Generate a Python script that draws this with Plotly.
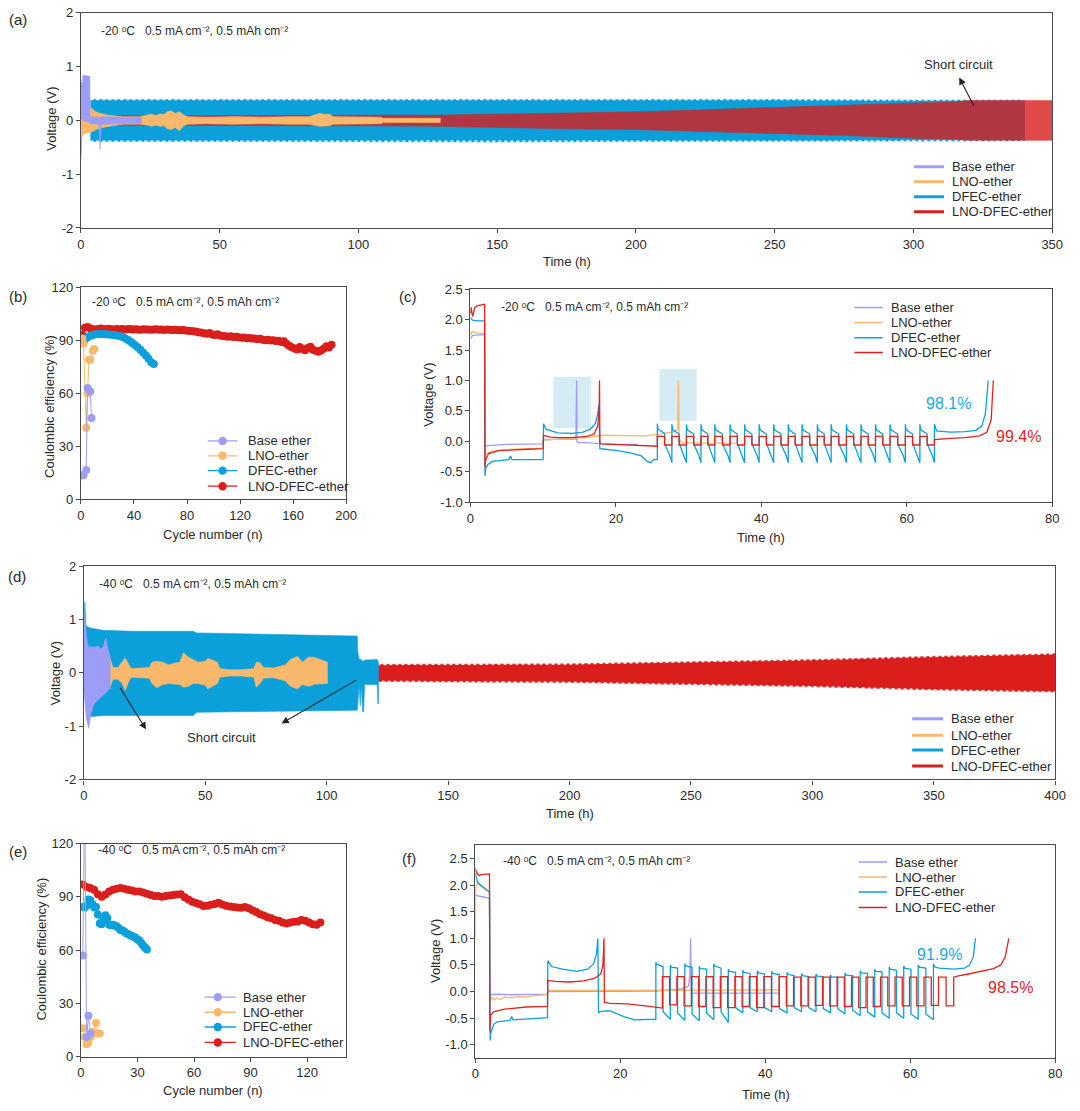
import plotly.graph_objects as go

W, H = 1080, 1111
FONT = "Liberation Sans, Arial, Helvetica, sans-serif"
TXT = "#2a2a2a"
AX = "#4a4a4a"

SERIES = ["Base ether", "LNO-ether", "DFEC-ether", "LNO-DFEC-ether"]
C_BASE, C_LNO, C_DFEC, C_BOTH = "#9D9DF7", "#F9B86C", "#0CA0DA", "#D91E1C"
COLORS = [C_BASE, C_LNO, C_DFEC, C_BOTH]

# ---------------- (a) -20 C symmetric cycling: envelopes of the voltage band ----------------
a_base_t = [0, 0.6, 0.7, 3.2, 3.3, 6.5, 6.8, 6.9, 7.0, 7.3, 15, 21.8]
a_base_up = [0.7, 0.72, 0.84, 0.82, 0.07, 0.07, 0.06, 0.05, 0.06, 0.07, 0.06, 0.06]
a_base_lo = [0.05, 0.02, 0.0, -0.04, -0.06, -0.07, -0.4, -0.54, -0.4, -0.07, -0.06, -0.06]

a_lno_t = [0, 0.3, 1, 2, 3.4, 4.5, 5.3, 6.5, 7.7, 9.5, 11.4, 15, 21, 24, 25.5, 27, 28.5, 30, 31, 32.5,
           34, 35.5, 37, 38.5, 45, 55, 65, 75, 82, 84, 86, 88, 89.5, 91, 100, 108, 109, 120, 129.5]
a_lno_up = [0.24, 0.15, 0.18, 0.2, 0.24, 0.2, 0.16, 0.14, 0.12, 0.1, 0.09, 0.07, 0.07, 0.1, 0.12, 0.09, 0.12, 0.11, 0.16, 0.18,
            0.13, 0.16, 0.1, 0.07, 0.06, 0.07, 0.06, 0.07, 0.07, 0.1, 0.13, 0.11, 0.12, 0.07, 0.06, 0.06, 0.04, 0.04, 0.04]
a_lno_lo = [-0.59, -0.3, -0.25, -0.24, -0.22, -0.2, -0.17, -0.15, -0.13, -0.11, -0.1, -0.07, -0.07, -0.09, -0.11, -0.09, -0.11, -0.1, -0.15, -0.17,
            -0.13, -0.19, -0.1, -0.07, -0.06, -0.07, -0.06, -0.07, -0.07, -0.09, -0.11, -0.1, -0.1, -0.07, -0.06, -0.06, -0.04, -0.04, -0.04]

a_dfec_t = [3.4, 50, 100, 150, 200, 250, 300, 340]
a_dfec_up = [0.39, 0.39, 0.39, 0.40, 0.39, 0.39, 0.38, 0.38]
a_dfec_lo = [-0.39, -0.39, -0.39, -0.40, -0.39, -0.39, -0.38, -0.38]

a_both_t = [0, 0.3, 0.6, 2, 5, 10, 50, 100, 130, 140, 150, 165, 175, 200, 225, 250, 275, 300, 315, 320, 350]
a_both_up = [0.1, 0.15, 0.1, 0.08, 0.08, 0.09, 0.09, 0.09, 0.1, 0.11, 0.12, 0.135, 0.14, 0.16, 0.2, 0.24, 0.28, 0.33, 0.35, 0.37, 0.37]
a_both_lo = [-0.7, -0.3, -0.15, -0.1, -0.09, -0.09, -0.09, -0.1, -0.11, -0.12, -0.13, -0.15, -0.155, -0.17, -0.2, -0.24, -0.28, -0.33, -0.35, -0.37, -0.37]

# ---------------- (b) -20 C Coulombic efficiency ----------------
b_base_n = [1, 2, 4, 5, 7, 8]
b_base_ce = [13.5, 13.8, 16.6, 63, 61, 46]
b_lno_n = [1, 2, 4, 5, 6, 7, 9, 10]
b_lno_ce = [91, 88, 40.5, 60, 79, 79, 84, 85]
b_dfec_n = list(range(1, 57, 2))
b_dfec_ce = [89.0, 90.3, 91.6, 92.5, 93.0, 93.3, 93.5, 93.5, 93.4, 93.3, 93.2, 93.1, 92.9, 92.7,
             92.4, 91.9, 91.2, 90.4, 89.4, 88.3, 87.1, 85.8, 84.4, 82.9, 81.3, 79.5, 77.5, 76.6]
b_both_n = list(range(1, 190, 2))
b_both_ce = [93.0, 97.0, 97.5, 96.8, 96.2, 96.0, 96.4, 96.6, 96.3, 96.1,
             96.5, 96.2, 96.0, 96.3, 96.1, 96.4, 96.0, 96.2, 96.3, 96.0,
             96.2, 96.1, 95.9, 96.2, 96.0, 96.1, 95.9, 96.0, 96.2, 95.9,
             96.0, 95.8, 96.0, 95.9, 95.7, 95.9, 95.8, 95.6, 95.7, 95.5,
             95.4, 95.2, 95.0, 94.8, 94.5, 94.2, 93.9, 93.6, 94.0, 93.2,
             93.0, 93.3, 92.6, 92.4, 92.3, 92.0, 92.2, 91.8, 91.9, 91.6,
             91.4, 91.5, 91.1, 91.2, 90.9, 91.0, 90.6, 90.8, 90.3, 90.0,
             90.2, 89.8, 89.9, 89.5, 89.7, 89.0, 89.4, 88.0, 86.8, 86.0,
             85.3, 84.8, 86.2, 85.0, 84.3, 85.6, 86.3, 84.6, 84.0, 83.4,
             84.2, 85.1, 86.6, 85.8, 87.4]

# ---------------- (c) -20 C voltage profiles ----------------
c_base_t = [0, 0.3, 1, 1.95, 2.0, 2.3, 5, 10, 10.05, 12, 14.5, 14.6, 14.65, 14.8, 16, 18, 20, 23]
c_base_v = [1.68, 1.74, 1.75, 1.75, -0.1, -0.07, -0.05, -0.04, 0.03, 0.03, 0.04, 1.0, 0.0, -0.02, -0.02, -0.04, -0.05, -0.05]
c_lno_t = [0, 0.2, 1, 1.95, 2.0, 2.1, 3, 6, 10, 10.05, 13, 16, 18, 20, 24, 26, 28, 28.5, 28.6, 28.7, 29, 32, 36.5]
c_lno_v = [1.72, 1.8, 1.78, 1.77, -0.22, -0.21, -0.16, -0.13, -0.11, 0.02, 0.04, 0.06, 0.1, 0.1, 0.09, 0.12, 0.16, 0.2, 1.0, 0.05, -0.02, -0.03, -0.03]
c_dfec_pre_t = [0, 0.3, 1, 1.95, 2.0, 2.1, 2.4, 3, 5.3, 5.5, 5.7, 8, 10, 10.05, 10.4, 12, 14, 15.5, 16.5, 17.2,
                17.5, 17.65, 17.7, 17.8, 18.5, 20, 22, 23.5, 24.3, 24.8, 25.2, 25.7]
c_dfec_pre_v = [2.03, 1.99, 1.98, 1.98, -0.57, -0.45, -0.38, -0.33, -0.3, -0.24, -0.3, -0.3, -0.3, 0.29, 0.2, 0.14, 0.13, 0.15, 0.2, 0.3,
                0.45, 0.6, -0.1, -0.12, -0.13, -0.15, -0.19, -0.24, -0.33, -0.35, -0.3, -0.3]
c_cyc_start = [25.7, 27.7, 29.7, 31.7, 33.6, 35.7, 37.7, 39.7, 41.7, 43.7, 45.6, 47.7, 49.6, 51.7, 53.7, 55.7, 57.7, 59.8, 61.8]
c_cyc_end = 63.8
c_dfec_hi_pk = [0.29, 0.28, 0.28, 0.28, 0.28, 0.28, 0.28, 0.28, 0.28, 0.28, 0.28, 0.28, 0.28, 0.28, 0.28, 0.28, 0.28, 0.28, 0.28]
c_dfec_hi_end = [0.13, 0.12, 0.12, 0.12, 0.12, 0.12, 0.12, 0.12, 0.12, 0.12, 0.12, 0.12, 0.12, 0.12, 0.12, 0.12, 0.12, 0.12, 0.12]
c_dfec_lo_st = [-0.03, -0.03, -0.03, -0.03, -0.03, -0.03, -0.03, -0.03, -0.03, -0.03, -0.03, -0.03, -0.03, -0.03, -0.03, -0.03, -0.03, -0.03, -0.03]
c_dfec_lo_end = [-0.35, -0.35, -0.35, -0.35, -0.35, -0.35, -0.35, -0.35, -0.35, -0.35, -0.35, -0.35, -0.35, -0.35, -0.35, -0.35, -0.35, -0.35, -0.35]
c_dfec_post_t = [63.8, 64.1, 66, 68, 69.5, 70.3, 70.8, 71.2]
c_dfec_post_v = [0.28, 0.17, 0.15, 0.16, 0.18, 0.25, 0.45, 1.0]
c_both_pre_t = [0, 0.1, 0.3, 0.6, 1, 1.95, 2.0, 2.1, 2.5, 4, 8, 10, 10.05, 11, 12, 14, 16, 17, 17.5, 17.7, 17.75, 17.8, 18, 20, 23, 25.7]
c_both_pre_v = [2.1, 2.2, 2.05, 2.2, 2.23, 2.25, -0.42, -0.3, -0.2, -0.15, -0.13, -0.12, 0.1, 0.07, 0.06, 0.06, 0.08, 0.12, 0.25, 0.5, 1.0, -0.03, -0.04, -0.05, -0.07, -0.08]
c_both_hi = [0.08, 0.08, 0.08, 0.08, 0.08, 0.08, 0.08, 0.08, 0.08, 0.08, 0.08, 0.08, 0.08, 0.08, 0.08, 0.08, 0.08, 0.08, 0.08]
c_both_lo = [-0.06, -0.06, -0.06, -0.06, -0.06, -0.06, -0.06, -0.06, -0.06, -0.06, -0.06, -0.06, -0.06, -0.06, -0.06, -0.06, -0.06, -0.06, -0.06]
c_both_post_t = [63.8, 64.5, 66, 68, 70, 71, 71.6, 71.9]
c_both_post_v = [0.03, 0.04, 0.05, 0.06, 0.09, 0.15, 0.35, 1.0]
c_boxes = [(11.4, 16.6, 0.22, 1.06), (26.0, 31.1, 0.34, 1.19)]

# ---------------- (d) -40 C symmetric cycling ----------------
d_base_t = [0, 0.5, 1, 2, 2.5, 3, 4, 5, 6, 7, 8, 9, 10, 10.8]
d_base_up = [0.9, 1.02, 0.7, 0.45, 0.5, 0.5, 0.48, 0.5, 0.5, 0.45, 0.5, 0.65, 0.45, 0.3]
d_base_lo = [-0.3, -0.6, -0.85, -1.04, -0.9, -0.75, -0.6, -0.55, -0.5, -0.45, -0.42, -0.38, -0.32, -0.3]
d_lno_t = [0, 0.3, 1, 5, 9, 10.5, 11.3, 12, 14, 15.8, 17, 18.6, 19.5, 23, 27, 28, 30, 32.5, 35, 37,
           39.5, 41, 43, 45, 47, 50, 51, 53, 55, 56, 60, 65, 70, 71, 72.5, 74, 78, 83, 85, 88,
           90, 92.6, 95, 98, 100.3]
d_lno_up = [1.12, 0.45, 0.3, 0.3, 0.3, 0.32, 0.2, 0.1, 0.1, 0.2, 0.28, 0.15, 0.08, 0.09, 0.1, 0.2, 0.22, 0.2, 0.15, 0.18,
            0.2, 0.38, 0.3, 0.25, 0.2, 0.22, 0.27, 0.24, 0.2, 0.08, 0.06, 0.06, 0.08, 0.2, 0.19, 0.1, 0.09, 0.15, 0.25, 0.31,
            0.2, 0.3, 0.29, 0.24, 0.2]
d_lno_lo = [-0.3, -0.3, -0.3, -0.3, -0.3, -0.3, -0.2, -0.12, -0.12, -0.2, -0.33, -0.15, -0.08, -0.09, -0.1, -0.2, -0.28, -0.22, -0.2, -0.21,
            -0.22, -0.27, -0.25, -0.2, -0.2, -0.23, -0.3, -0.25, -0.2, -0.08, -0.06, -0.06, -0.08, -0.27, -0.2, -0.1, -0.09, -0.15, -0.25, -0.3,
            -0.22, -0.25, -0.21, -0.2, -0.2]
d_dfec_t = [0, 0.4, 0.8, 1.2, 3, 8, 20, 45, 46.5, 80, 112.6, 112.8, 113.4, 113.8, 114.2, 114.8, 115.2, 115.6, 120.8, 121.1, 121.3]
d_dfec_up = [0.2, 1.33, 0.9, 0.87, 0.84, 0.8, 0.78, 0.78, 0.75, 0.72, 0.69, 0.4, 0.25, 0.25, 0.25, 0.22, 0.22, 0.24, 0.25, 0.22, 0.2]
d_dfec_lo = [-0.2, -0.3, -0.6, -0.83, -0.82, -0.8, -0.8, -0.8, -0.74, -0.72, -0.7, -0.62, -0.22, -0.62, -0.22, -0.73, -0.73, -0.22, -0.22, -0.58, -0.58]
d_both_t = [0, 0.5, 121, 150, 200, 250, 300, 350, 400]
d_both_up = [0.1, 0.12, 0.16, 0.16, 0.17, 0.21, 0.25, 0.31, 0.36]
d_both_lo = [-0.21, -0.15, -0.16, -0.17, -0.18, -0.22, -0.26, -0.32, -0.36]

# ---------------- (e) -40 C Coulombic efficiency ----------------
e_base_n = [1, 2, 3, 4, 5]
e_base_ce = [57, 150, 11, 23, 13]
e_lno_n = [1, 2, 3, 4, 5, 6, 7, 8, 9, 10]
e_lno_ce = [16, 11, 7, 8, 11, 14, 13, 19, 13, 13]
e_dfec_n = list(range(1, 36))
e_dfec_ce = [84.3, 84.0, 85.0, 88.5, 88.0, 86.0, 84.0, 84.3, 80.0, 75.0, 74.5, 77.0, 79.6, 78.0, 74.3, 74.0, 74.3, 73.8,
             73.3, 72.5, 71.3, 71.0, 70.5, 69.5, 69.0, 68.5, 68.0, 67.5, 67.0, 66.0, 65.4, 64.0, 62.6, 61.5, 60.4]
e_both_n = list(range(1, 128, 2))
e_both_ce = [96.9, 95.5, 95.0, 94.0, 91.5, 90.0, 91.3, 93.0, 94.0, 94.5,
             95.0, 94.5, 94.0, 93.5, 93.0, 93.0, 92.5, 91.7, 91.0, 90.5,
             90.4, 90.0, 90.4, 90.8, 91.0, 91.3, 91.5, 89.8, 88.5, 87.2,
             86.5, 85.8, 84.8, 85.0, 85.5, 86.0, 86.7, 85.7, 85.0, 84.5,
             84.3, 84.0, 83.9, 84.3, 83.5, 82.5, 81.5, 80.2, 79.5, 78.5,
             78.0, 77.0, 76.5, 75.5, 75.0, 75.5, 76.0, 76.1, 77.0, 76.5,
             75.5, 74.5, 74.3, 75.6]

# ---------------- (f) -40 C voltage profiles ----------------
f_base_t = [0, 0.2, 1, 1.95, 2.0, 3, 5, 8, 9.9, 10, 15, 21.5, 25, 28.5, 29.4, 29.6, 29.7, 29.8, 30, 35, 42]
f_base_v = [1.83, 1.8, 1.78, 1.75, -0.06, -0.05, -0.06, -0.05, -0.05, 0.0, 0.0, 0.0, 0.01, 0.05, 0.1, 0.3, 1.0, 0.02, -0.03, -0.03, -0.03]
f_lno_t = [0, 0.05, 0.3, 1, 1.95, 2.0, 2.3, 2.6, 3, 3.5, 4, 5, 6, 7, 8, 9, 9.9, 10, 20, 30, 42]
f_lno_v = [1.0, 1.95, 2.03, 1.95, 1.86, -0.2, -0.1, -0.16, -0.12, -0.15, -0.1, -0.12, -0.09, -0.1, -0.08, -0.07, -0.06, 0.02, 0.02, 0.03, 0.03]
f_dfec_pre_t = [0, 0.3, 1, 1.95, 2.05, 2.1, 2.5, 3, 4.8, 5, 5.2, 8, 9.95, 10.0, 10.5, 12, 14, 15.5, 16.3, 16.7,
                16.9, 17.0, 17.3, 18.5, 19.5, 20.5, 22, 23.5, 24.9]
f_dfec_pre_v = [2.22, 2.05, 1.97, 1.87, -0.92, -0.8, -0.62, -0.57, -0.54, -0.47, -0.53, -0.51, -0.49, 0.58, 0.47, 0.42, 0.38, 0.42, 0.52, 0.7,
                1.0, -0.4, -0.37, -0.36, -0.41, -0.47, -0.53, -0.52, -0.52]
f_dfec_start = [24.9, 26.9, 28.9, 30.9, 32.9, 34.9, 36.9, 38.9, 40.9, 43.0, 45.0, 47.0, 49.0, 51.0, 53.1, 55.1, 57.1, 59.1, 61.1]
f_dfec_end = 63.2
f_dfec_hi_pk = [0.55, 0.5, 0.52, 0.47, 0.52, 0.42, 0.4, 0.39, 0.38, 0.36, 0.34, 0.33, 0.31, 0.35, 0.39, 0.42, 0.46, 0.48, 0.5]
f_dfec_hi_end = [0.47, 0.44, 0.45, 0.42, 0.44, 0.36, 0.34, 0.33, 0.32, 0.3, 0.28, 0.28, 0.27, 0.3, 0.34, 0.37, 0.4, 0.42, 0.44]
f_dfec_lo_st = [-0.38, -0.4, -0.42, -0.4, -0.38, -0.3, -0.3, -0.3, -0.32, -0.3, -0.3, -0.32, -0.32, -0.35, -0.38, -0.4, -0.4, -0.42, -0.42]
f_dfec_lo_end = [-0.52, -0.54, -0.55, -0.53, -0.58, -0.4, -0.38, -0.38, -0.4, -0.38, -0.38, -0.4, -0.42, -0.45, -0.48, -0.5, -0.5, -0.52, -0.53]
f_dfec_post_t = [63.2, 63.4, 64, 66, 67.5, 68.2, 68.7, 69.0]
f_dfec_post_v = [0.52, 0.46, 0.44, 0.42, 0.44, 0.5, 0.65, 1.0]
f_both_pre_t = [0, 0.2, 0.5, 1, 1.95, 2.0, 2.1, 2.5, 4, 7, 9.95, 10.0, 11, 13, 15, 16.5, 17.3, 17.6, 17.75, 17.8, 18.5, 21, 24, 25.8]
f_both_pre_v = [2.31, 2.22, 2.18, 2.2, 2.21, -0.75, -0.45, -0.38, -0.33, -0.29, -0.28, 0.21, 0.19, 0.18, 0.2, 0.25, 0.33, 0.5, 1.0, -0.2, -0.22, -0.23, -0.28, -0.31]
f_both_start = [25.8, 27.8, 29.8, 31.8, 33.8, 35.8, 37.8, 39.8, 41.9, 43.9, 45.9, 47.9, 49.9, 51.9, 53.9, 55.9, 57.9, 59.9, 61.9, 63.9]
f_both_end = 66.0
f_both_hi = [0.28, 0.28, 0.28, 0.28, 0.28, 0.28, 0.28, 0.28, 0.28, 0.27, 0.27, 0.27, 0.27, 0.27, 0.27, 0.27, 0.27, 0.27, 0.27, 0.27]
f_both_lo = [-0.25, -0.27, -0.28, -0.3, -0.3, -0.28, -0.3, -0.28, -0.27, -0.27, -0.26, -0.27, -0.28, -0.3, -0.28, -0.27, -0.27, -0.27, -0.26, -0.27]
f_both_post_t = [66.0, 66.5, 68, 70, 71.5, 72.5, 73.1, 73.6]
f_both_post_v = [0.27, 0.29, 0.33, 0.38, 0.43, 0.5, 0.65, 1.0]

COND20 = "-20 \u1d52C\u00a0\u00a0 0.5 mA cm\u207b\u00b2, 0.5 mAh cm\u207b\u00b2"
COND40 = "-40 \u1d52C\u00a0\u00a0 0.5 mA cm\u207b\u00b2, 0.5 mAh cm\u207b\u00b2"

# ---------------- layout of the six panels (pixel boxes) ----------------
PANELS = {
    1: dict(px=(78, 1063), py=(6, 224), xr=[0, 350], yr=[-2, 2],
            xt=[0, 50, 100, 150, 200, 250, 300, 350], yt=[-2, -1, 0, 1, 2], ytt=["-2", "-1", "0", "1", "2"]),
    2: dict(px=(78, 347), py=(284, 499), xr=[0, 200], yr=[0, 120],
            xt=[0, 40, 80, 120, 160, 200], yt=[0, 30, 60, 90, 120], ytt=["0", "30", "60", "90", "120"]),
    3: dict(px=(473, 1063), py=(286, 502), xr=[0, 80], yr=[-1.0, 2.5],
            xt=[0, 20, 40, 60, 80], yt=[-1.0, -0.5, 0, 0.5, 1.0, 1.5, 2.0, 2.5],
            ytt=["-1.0", "-0.5", "0.0", "0.5", "1.0", "1.5", "2.0", "2.5"]),
    4: dict(px=(81, 1066), py=(567, 783), xr=[0, 400], yr=[-2, 2],
            xt=[0, 50, 100, 150, 200, 250, 300, 350, 400], yt=[-2, -1, 0, 1, 2], ytt=["-2", "-1", "0", "1", "2"]),
    5: dict(px=(78, 347), py=(848, 1064), xr=[0, 140.7], yr=[0, 120],
            xt=[0, 30, 60, 90, 120], yt=[0, 30, 60, 90, 120], ytt=["0", "30", "60", "90", "120"]),
    6: dict(px=(478, 1066), py=(849, 1065), xr=[0, 80], yr=[-1.24, 2.76],
            xt=[0, 20, 40, 60, 80], yt=[-1.0, -0.5, 0, 0.5, 1.0, 1.5, 2.0, 2.5],
            ytt=["-1.0", "-0.5", "0.0", "0.5", "1.0", "1.5", "2.0", "2.5"]),
}


def ax(n):
    return ("x", "y") if n == 1 else (f"x{n}", f"y{n}")


fig = go.Figure()


def band(n, t, up, lo, color, opacity=1.0, teeth=False):
    xa, ya = ax(n)
    x = list(t) + list(t)[::-1]
    y = list(up) + list(lo)[::-1]
    fig.add_trace(go.Scatter(x=x, y=y, mode="lines", fill="toself", fillcolor=color,
                             line=dict(color=color, width=0.6), opacity=opacity,
                             xaxis=xa, yaxis=ya, showlegend=False, hoverinfo="skip"))
    if teeth:
        # white dotted edge gives the serrated look of the individual cycles
        for edge in (up, lo):
            fig.add_trace(go.Scatter(x=t, y=edge, mode="lines",
                                     line=dict(color="white", width=1.6, dash="3px,3px"),
                                     xaxis=xa, yaxis=ya, showlegend=False, hoverinfo="skip"))


def line(n, t, v, color, width=1.3):
    xa, ya = ax(n)
    fig.add_trace(go.Scatter(x=t, y=v, mode="lines", line=dict(color=color, width=width),
                             xaxis=xa, yaxis=ya, showlegend=False, hoverinfo="skip"))


def dots(n, cyc, ce, color, lcolor=None):
    xa, ya = ax(n)
    fig.add_trace(go.Scatter(x=cyc, y=ce, mode="lines+markers",
                             line=dict(color=lcolor or color, width=1),
                             marker=dict(color=color, size=8, line=dict(width=0)),
                             xaxis=xa, yaxis=ya, showlegend=False, hoverinfo="skip", cliponaxis=True))


def cycles(starts, end, hi_pk, hi_end, lo_st, lo_end, style):
    ts, vs = [], []
    for k, s in enumerate(starts):
        e = starts[k + 1] if k + 1 < len(starts) else end
        m = (s + e) / 2
        if style == "square":
            ts += [s, m, m, e]
            vs += [hi_pk[k], hi_end[k], lo_st[k], lo_end[k]]
        elif style == "spiky":
            ts += [s, s + 0.12, m, m, m + 0.25, e - 0.3, e]
            vs += [hi_pk[k], hi_pk[k] - 0.09, hi_end[k], lo_st[k], lo_st[k] - 0.08,
                   lo_end[k] + 0.12, lo_end[k]]
        else:
            ts += [s, s + 0.15, m, m, e]
            vs += [hi_pk[k], hi_pk[k] - 0.04, hi_end[k], lo_st[k], lo_end[k]]
    return ts, vs


# ---- (a)
band(1, a_dfec_t, a_dfec_up, a_dfec_lo, C_DFEC, teeth=True)
band(1, a_both_t, a_both_up, a_both_lo, C_BOTH, opacity=0.8)
band(1, a_lno_t, a_lno_up, a_lno_lo, C_LNO)
band(1, a_base_t, a_base_up, a_base_lo, C_BASE)

# ---- (b)
dots(2, b_both_n, b_both_ce, C_BOTH, "#E86A66")
dots(2, b_dfec_n, b_dfec_ce, C_DFEC)
dots(2, b_lno_n, b_lno_ce, C_LNO)
dots(2, b_base_n, b_base_ce, C_BASE)

# ---- (c)
line(3, c_base_t, c_base_v, C_BASE)
line(3, c_lno_t, c_lno_v, C_LNO)
ct, cv = cycles(c_cyc_start, c_cyc_end, c_dfec_hi_pk, c_dfec_hi_end, c_dfec_lo_st, c_dfec_lo_end, "spiky")
line(3, c_dfec_pre_t + ct + c_dfec_post_t, c_dfec_pre_v + cv + c_dfec_post_v, C_DFEC)
ct, cv = cycles(c_cyc_start, c_cyc_end, c_both_hi, c_both_hi, c_both_lo, c_both_lo, "square")
line(3, c_both_pre_t + ct + c_both_post_t, c_both_pre_v + cv + c_both_post_v, "#E4231E")

# ---- (d)
band(4, d_both_t, d_both_up, d_both_lo, C_BOTH, teeth=True)
band(4, d_dfec_t, d_dfec_up, d_dfec_lo, C_DFEC)
band(4, d_lno_t, d_lno_up, d_lno_lo, C_LNO)
band(4, d_base_t, d_base_up, d_base_lo, C_BASE)

# ---- (e)
dots(5, e_both_n, e_both_ce, C_BOTH, "#E86A66")
dots(5, e_dfec_n, e_dfec_ce, C_DFEC)
dots(5, e_lno_n, e_lno_ce, C_LNO)
dots(5, e_base_n, e_base_ce, C_BASE)

# ---- (f)
line(6, f_base_t, f_base_v, C_BASE)
line(6, f_lno_t, f_lno_v, C_LNO)
ft, fv = cycles(f_dfec_start, f_dfec_end, f_dfec_hi_pk, f_dfec_hi_end, f_dfec_lo_st, f_dfec_lo_end, "flat")
line(6, f_dfec_pre_t + ft + f_dfec_post_t, f_dfec_pre_v + fv + f_dfec_post_v, C_DFEC)
ft, fv = cycles(f_both_start, f_both_end, f_both_hi, f_both_hi, f_both_lo, f_both_lo, "square")
line(6, f_both_pre_t + ft + f_both_post_t, f_both_pre_v + fv + f_both_post_v, "#E4231E")

# ---------------- axes ----------------
common = dict(showline=True, linecolor=AX, linewidth=1.2, mirror=True, ticks="outside", ticklen=4,
              tickwidth=1.1, tickcolor=AX, showgrid=False, zeroline=False,
              tickfont=dict(family=FONT, size=13, color=TXT))
lay = {}
for n, p in PANELS.items():
    xk = "xaxis" if n == 1 else f"xaxis{n}"
    yk = "yaxis" if n == 1 else f"yaxis{n}"
    xa, ya = ax(n)
    lay[xk] = dict(domain=[p["px"][0] / W, p["px"][1] / W], range=p["xr"], anchor=ya,
                   tickvals=p["xt"], ticktext=[str(v) for v in p["xt"]], **common)
    lay[yk] = dict(domain=[1 - p["py"][1] / H, 1 - p["py"][0] / H], range=p["yr"], anchor=xa,
                   tickvals=p["yt"], ticktext=p["ytt"], **common)
fig.update_layout(**lay)

ann = []
shapes = []


def ptext(px, py, text, size=13, angle=0, xanchor="center", color=TXT):
    ann.append(dict(xref="paper", yref="paper", x=px / W, y=1 - py / H, text=text, showarrow=False,
                    textangle=angle, xanchor=xanchor, yanchor="middle",
                    font=dict(family=FONT, size=size, color=color)))


def dtext(n, x, y, text, size=13, xanchor="left", color=TXT):
    xa, ya = ax(n)
    ann.append(dict(xref=xa, yref=ya, x=x, y=y, text=text, showarrow=False, xanchor=xanchor,
                    yanchor="middle", font=dict(family=FONT, size=size, color=color)))


def arrow(n, x, y, axx, ayy):
    xa, ya = ax(n)
    ann.append(dict(xref=xa, yref=ya, axref=xa, ayref=ya, x=x, y=y, ax=axx, ay=ayy, text="",
                    showarrow=True, arrowhead=2, arrowsize=1.3, arrowwidth=1.1, arrowcolor="#222"))


def legend(n, x0, x1, xt, ys, width, marker_x=None):
    xa, ya = ax(n)
    for name, col, yy in zip(SERIES, COLORS, ys):
        shapes.append(dict(type="line", xref=xa, yref=ya, x0=x0, x1=x1, y0=yy, y1=yy,
                           line=dict(color=col, width=width)))
        if marker_x is not None:
            shapes.append(dict(type="circle", xref=xa, yref=ya, xsizemode="pixel", ysizemode="pixel",
                               xanchor=marker_x, yanchor=yy, x0=-4.2, x1=4.2, y0=-4.2, y1=4.2,
                               fillcolor=col, line=dict(width=0)))
        dtext(n, xt, yy, name, size=13)


# panel letters
ptext(3, 13, "(a)", 15, xanchor="left")
ptext(3, 293, "(b)", 15, xanchor="left")
ptext(399, 293, "(c)", 15, xanchor="left")
ptext(2, 577, "(d)", 15, xanchor="left")
ptext(3, 856, "(e)", 15, xanchor="left")
ptext(402, 863, "(f)", 15, xanchor="left")

# axis titles
ptext(48, 113, "Voltage (V)", 13, -90)
ptext(571, 258, "Time (h)", 13)
ptext(46, 405, "Coulombic efficiency (%)", 13, -90)
ptext(212, 535, "Cycle number (n)", 13)
ptext(431, 393, "Voltage (V)", 13, -90)
ptext(768, 538, "Time (h)", 13)
ptext(53, 675, "Voltage (V)", 13, -90)
ptext(574, 818, "Time (h)", 13)
ptext(38, 955, "Coulombic efficiency (%)", 13, -90)
ptext(212, 1098, "Cycle number (n)", 13)
ptext(437, 957, "Voltage (V)", 13, -90)
ptext(773, 1102, "Time (h)", 13)

# condition labels
dtext(1, 6.5, 1.67, COND20, 12)
dtext(2, 6.7, 111.6, COND20, 12)
dtext(3, 3.9, 2.2, COND20, 12)
dtext(4, 5.3, 1.67, COND40, 12)
dtext(5, 7.9, 116.3, COND40, 12)
dtext(6, 3.5, 2.46, COND40, 12)

# short circuit notes
dtext(1, 316.2, 1.04, "Short circuit", 13, xanchor="center")
arrow(1, 316.5, 0.8, 322, 0.24)
dtext(4, 56.6, -1.22, "Short circuit", 13, xanchor="center")
arrow(4, 25.6, -1.06, 14.4, -0.24)
arrow(4, 81.4, -0.95, 112.8, -0.12)

# CE values in (c) and (f)
dtext(3, 65.7, 0.62, "98.1%", 16, xanchor="center", color="#19A9E2")
dtext(3, 75.4, 0.08, "99.4%", 16, xanchor="center", color="#E0241F")
dtext(6, 64.0, 0.69, "91.9%", 16, xanchor="center", color="#19A9E2")
dtext(6, 73.8, 0.07, "98.5%", 16, xanchor="center", color="#E0241F")

# legends
legend(1, 300.2, 311.0, 313.2, [-0.86, -1.14, -1.42, -1.70], 3)
legend(2, 95.7, 118.0, 124.7, [33.0, 24.6, 16.2, 7.4], 1.3, marker_x=106.8)
legend(3, 52.8, 56.7, 57.6, [2.20, 1.95, 1.70, 1.46], 1.5)
legend(4, 341.1, 353.8, 356.2, [-0.86, -1.17, -1.45, -1.75], 3)
legend(5, 65.6, 82.2, 84.8, [33.5, 25.0, 16.7, 8.0], 1.3, marker_x=72.6)
legend(6, 52.9, 56.8, 57.6, [2.43, 2.15, 1.87, 1.58], 1.5)

# highlighted regions in (c)
for (t0, t1, v0, v1) in c_boxes:
    shapes.append(dict(type="rect", xref="x3", yref="y3", x0=t0, x1=t1, y0=v0, y1=v1,
                       fillcolor="#D5ECF4", line=dict(width=0), layer="below"))

fig.update_layout(width=W, height=H, margin=dict(l=0, r=0, t=0, b=0),
                  paper_bgcolor="white", plot_bgcolor="white", showlegend=False,
                  font=dict(family=FONT, size=13, color=TXT),
                  annotations=ann, shapes=shapes)

fig.write_html("out.html", config={"displayModeBar": False},
               post_script="document.body.style.margin='0';")
